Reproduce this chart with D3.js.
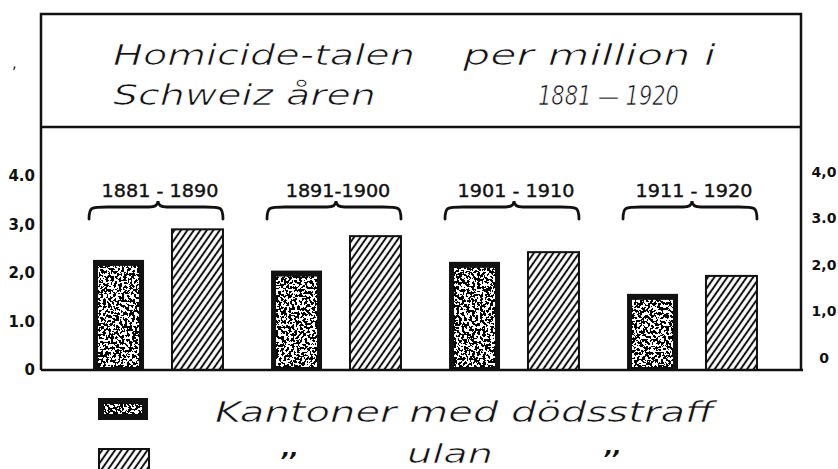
<!DOCTYPE html>
<html>
<head>
<meta charset="utf-8">
<script src="https://cdn.jsdelivr.net/npm/d3@7"></script>
<style>
  html, body { margin: 0; padding: 0; background: #fff; }
  svg { display: block; }
</style>
</head>
<body>
<script>
// ---- data ----
const periods = ["1881 - 1890", "1891-1900", "1901 - 1910", "1911 - 1920"];
const seriesKeys = ["med", "utan"];
const medDodsstraff = [2.27, 2.05, 2.23, 1.57];   // Kantoner med dödsstraff
const utanDodsstraff = [2.9, 2.76, 2.43, 1.94];   // Kantoner utan dödsstraff
const tickValues = [0, 1, 2, 3, 4];
const leftTickLabels = ["0", "1.0", "2,0", "3,0", "4.0"];
const rightTickLabels = ["0", "1,0", "2,0", "3.0", "4,0"];
const titleParts = ["Homicide-talen", "per million i", "Schweiz åren", "1881 — 1920"];
const legendLabels = ["Kantoner med dödsstraff", ",,", "ulan", ",,"];

const W = 838, H = 469;
const svg = d3.select("body").append("svg").attr("width", W).attr("height", H);
const ink = "#111";
const hand = "'DejaVu Sans', sans-serif";

// stretch a text horizontally so that it spans a given width
function fit(sel, width) {
  sel.each(function () {
    const n = this.getComputedTextLength();
    const x = +this.getAttribute("x");
    const s = width / n;
    d3.select(this).attr("transform", `translate(${x},0) scale(${s},1) translate(${-x},0)`);
  });
  return sel;
}

// ---- defs ----
const defs = svg.append("defs");
const hatch = defs.append("pattern").attr("id", "hatch")
  .attr("patternUnits", "userSpaceOnUse").attr("width", 5.3).attr("height", 5.3)
  .attr("patternTransform", "rotate(35)");
hatch.append("rect").attr("width", 5.3).attr("height", 5.3).attr("fill", "#fff");
hatch.append("line").attr("x1", 2.65).attr("x2", 2.65).attr("y1", -1).attr("y2", 6.5)
  .attr("stroke", ink).attr("stroke-width", 2);

[3, 7, 13, 21, 29].forEach((seed, i) => {
  const f = defs.append("filter").attr("id", "speckle" + i)
    .attr("x", 0).attr("y", 0).attr("width", 1).attr("height", 1)
    .attr("color-interpolation-filters", "sRGB");
  f.append("feTurbulence").attr("type", "fractalNoise").attr("baseFrequency", 0.38)
    .attr("numOctaves", 2).attr("seed", seed);
  f.append("feColorMatrix").attr("type", "matrix")
    .attr("values", "1 0 0 0 0  1 0 0 0 0  1 0 0 0 0  0 0 0 0 1");
  const ct = f.append("feComponentTransfer");
  ["feFuncR", "feFuncG", "feFuncB"].forEach(n => ct.append(n).attr("type", "discrete").attr("tableValues", "0 1"));
  f.append("feComposite").attr("operator", "in").attr("in2", "SourceGraphic");
});

// ---- scales ----
const y = d3.scaleLinear().domain([0, 4]).range([370, 176]);
const yR = d3.scaleLinear().domain([0, 4]).range([358, 172]);
const x0 = d3.scaleBand().domain(periods).range([69, 781]).paddingInner(0.27).paddingOuter(0.135);
const x1 = d3.scaleBand().domain(seriesKeys).range([0, x0.bandwidth()]).paddingInner(0.354).paddingOuter(0);

const rows = periods.map((p, i) => ({ period: p, med: medDodsstraff[i], utan: utanDodsstraff[i], i }));

// ---- frame ----
const frameL = 41, frameR = 801, frameT = 14, sepY = 127;
svg.append("path")
  .attr("d", `M${frameL},${y(0)} L${frameL},${frameT} L${frameR},${frameT} L${frameR},${y(0)}`)
  .attr("fill", "none").attr("stroke", ink).attr("stroke-width", 2.5);
svg.append("line").attr("x1", frameL).attr("x2", frameR).attr("y1", sepY).attr("y2", sepY)
  .attr("stroke", ink).attr("stroke-width", 2.5);
svg.append("text").attr("x", 12).attr("y", 68).attr("font-family", hand).attr("font-size", 14)
  .attr("fill", ink).text("‚");

// ---- title ----
const t = svg.append("g").attr("font-family", hand).attr("font-style", "italic")
  .attr("font-size", 28).attr("fill", ink).attr("stroke", "#fff").attr("stroke-width", 0.7);
fit(t.append("text").attr("x", 113).attr("y", 65).text(titleParts[0]), 302);
fit(t.append("text").attr("x", 463).attr("y", 65).text(titleParts[1]), 253);
fit(t.append("text").attr("x", 113).attr("y", 105).text(titleParts[2]), 263);
fit(t.append("text").attr("x", 538).attr("y", 105).attr("font-size", 26).text(titleParts[3]), 141);

// ---- bars ----
const groups = svg.append("g").selectAll("g").data(rows).join("g")
  .attr("transform", d => `translate(${x0(d.period)},0)`);

// dark (med dödsstraff)
groups.append("rect")
  .attr("x", x1("med")).attr("y", d => y(d.med))
  .attr("width", x1.bandwidth()).attr("height", d => y(0) - y(d.med))
  .attr("fill", ink);
groups.append("rect")
  .attr("x", x1("med") + 5).attr("y", d => y(d.med) + 6)
  .attr("width", x1.bandwidth() - 10).attr("height", d => y(0) - y(d.med) - 9)
  .attr("fill", "#000").attr("filter", d => `url(#speckle${d.i})`);

// hatched (utan dödsstraff)
groups.append("rect")
  .attr("x", x1("utan")).attr("y", d => y(d.utan))
  .attr("width", x1.bandwidth()).attr("height", d => y(0) - y(d.utan))
  .attr("fill", "url(#hatch)").attr("stroke", ink).attr("stroke-width", 2);

// braces + period labels
const bw = x0.bandwidth();
groups.append("path")
  .attr("d", () => {
    const a = -4, b = bw, c = bw / 2, yb = 219, yh = 207, yp = 201;
    return `M${a},${yb} C${a},${yh} ${a + 2},${yh} ${a + 18},${yh} L${c - 9},${yh} Q${c},${yh} ${c},${yp} Q${c},${yh} ${c + 9},${yh} L${b - 18},${yh} C${b - 2},${yh} ${b},${yh} ${b},${yb}`;
  })
  .attr("fill", "none").attr("stroke", ink).attr("stroke-width", 2.8).attr("stroke-linecap", "round");
const pl = groups.append("text")
  .attr("x", bw / 2 + 2).attr("y", 197)
  .attr("text-anchor", "middle").attr("font-family", hand).attr("font-size", 17)
  .attr("fill", ink).attr("stroke", ink).attr("stroke-width", 0.4)
  .text(d => d.period);
pl.attr("transform", `translate(${bw / 2 + 2},0) scale(1.13,1) translate(${-(bw / 2 + 2)},0)`);

// ---- baseline ----
svg.append("line").attr("x1", frameL).attr("x2", frameR + 2).attr("y1", y(0)).attr("y2", y(0))
  .attr("stroke", ink).attr("stroke-width", 2.5);

// ---- axes ----
const axL = svg.append("g").attr("transform", `translate(${frameL},0)`)
  .call(d3.axisLeft(y).tickValues(tickValues).tickFormat((d, i) => leftTickLabels[i]).tickSize(0).tickPadding(6));
axL.select(".domain").remove();
axL.selectAll("text").attr("font-family", hand).attr("font-weight", "bold").attr("font-size", 15).attr("fill", ink);

const axR = svg.append("g").attr("transform", `translate(${frameR},0)`)
  .call(d3.axisRight(yR).tickValues(tickValues).tickFormat((d, i) => rightTickLabels[i]).tickSize(0).tickPadding(0));
axR.select(".domain").remove();
axR.selectAll("text").attr("x", 23).attr("text-anchor", "middle")
  .attr("font-family", hand).attr("font-weight", "bold").attr("font-size", 14).attr("fill", ink);

// ---- legend ----
const lg = svg.append("g");
lg.append("rect").attr("x", 98).attr("y", 398).attr("width", 50).attr("height", 22).attr("fill", ink);
lg.append("rect").attr("x", 104).attr("y", 404).attr("width", 38).attr("height", 10)
  .attr("fill", "#000").attr("filter", "url(#speckle4)");
lg.append("rect").attr("x", 99).attr("y", 449).attr("width", 50).attr("height", 22)
  .attr("fill", "url(#hatch)").attr("stroke", ink).attr("stroke-width", 2);

const lt = lg.append("g").attr("font-family", hand).attr("font-style", "italic")
  .attr("font-size", 29).attr("fill", ink);
fit(lt.append("text").attr("x", 215).attr("y", 422).attr("stroke", "#fff").attr("stroke-width", 0.6)
  .text(legendLabels[0]), 499);
lt.append("text").attr("x", 282).attr("y", 456).attr("font-size", 22).attr("font-weight", "bold").text(legendLabels[1]);
fit(lt.append("text").attr("x", 407).attr("y", 463).attr("font-size", 26).attr("stroke", "#fff").attr("stroke-width", 0.6)
  .text(legendLabels[2]), 86);
lt.append("text").attr("x", 605).attr("y", 454).attr("font-size", 22).attr("font-weight", "bold").text(legendLabels[3]);
</script>
</body>
</html>
